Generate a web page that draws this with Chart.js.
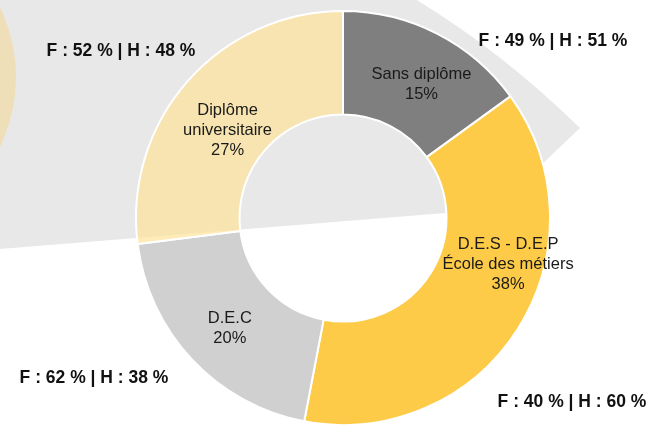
<!DOCTYPE html>
<html><head><meta charset="utf-8">
<script src="https://cdn.jsdelivr.net/npm/chart.js@4"></script>
<style>html,body{margin:0;padding:0;background:#fff;overflow:hidden}#wrap{width:648px;height:427px;position:relative}</style>
</head><body><div id="wrap"><canvas id="c" width="648" height="427"></canvas></div>
<script>
// ---- data ----
const categories = [["Sans diplôme"], ["D.E.S - D.E.P", "École des métiers"], ["D.E.C"], ["Diplôme", "universitaire"]];
const shares = [15, 38, 20, 27];
const genderSplits = ["F : 49 % | H : 51 %", "F : 40 % | H : 60 %", "F : 62 % | H : 38 %", "F : 52 % | H : 48 %"];

// ---- styles ----
const sliceColors = ["#7f7f7f", "#fecb48", "#d0d0d0", "rgba(253,226,152,0.7)"];
const labelOffsets = [[8, 5], [34, -37], [0, 4], [1, 15]];
const splitPositions = [[553, 41], [572, 402], [94, 378], [121, 51]];
const FONT = "'Liberation Sans', Arial, sans-serif";

const backdrop = {
  id: 'backdrop',
  beforeDraw(chart) {
    const ctx = chart.ctx;
    ctx.save();
    ctx.fillStyle = '#e8e8e8';
    ctx.beginPath();
    ctx.moveTo(-5, -10);
    ctx.lineTo(400, -10);
    ctx.quadraticCurveTo(495, 45, 580, 128);
    ctx.lineTo(495, 209);
    ctx.lineTo(-5, 249.5);
    ctx.closePath();
    ctx.fill();
    ctx.fillStyle = '#eedfb9';
    ctx.beginPath();
    ctx.arc(-145, 77, 161, 0, Math.PI * 2);
    ctx.fill();
    ctx.restore();
  }
};

const sliceLabels = {
  id: 'sliceLabels',
  afterDatasetsDraw(chart) {
    const ctx = chart.ctx;
    const meta = chart.getDatasetMeta(0);
    ctx.save();
    ctx.fillStyle = '#1a1a1a';
    ctx.font = '16.5px ' + FONT;
    ctx.textAlign = 'center';
    ctx.textBaseline = 'middle';
    meta.data.forEach((arc, i) => {
      const p = arc.tooltipPosition();
      const lines = [...categories[i], shares[i] + '%'];
      const lh = 20;
      const cx = p.x + labelOffsets[i][0];
      const cy = p.y + labelOffsets[i][1];
      lines.forEach((t, k) => {
        ctx.fillText(t, cx, cy - (lines.length - 1) * lh / 2 + k * lh);
      });
    });
    ctx.fillStyle = '#111';
    ctx.font = 'bold 17.5px ' + FONT;
    genderSplits.forEach((t, i) => {
      ctx.fillText(t, splitPositions[i][0], splitPositions[i][1]);
    });
    ctx.restore();
  }
};

new Chart(document.getElementById('c'), {
  type: 'doughnut',
  data: {
    labels: categories.map(c => c.join(' ')),
    datasets: [{
      data: shares,
      backgroundColor: sliceColors,
      borderColor: '#ffffff',
      borderWidth: 2
    }]
  },
  options: {
    responsive: false,
    animation: false,
    devicePixelRatio: 1,
    cutout: '50%',
    layout: { padding: { left: 135, right: 97, top: 10, bottom: 1 } },
    plugins: { legend: { display: false }, tooltip: { enabled: false } },
    events: []
  },
  plugins: [backdrop, sliceLabels]
});
</script>
</body></html>
